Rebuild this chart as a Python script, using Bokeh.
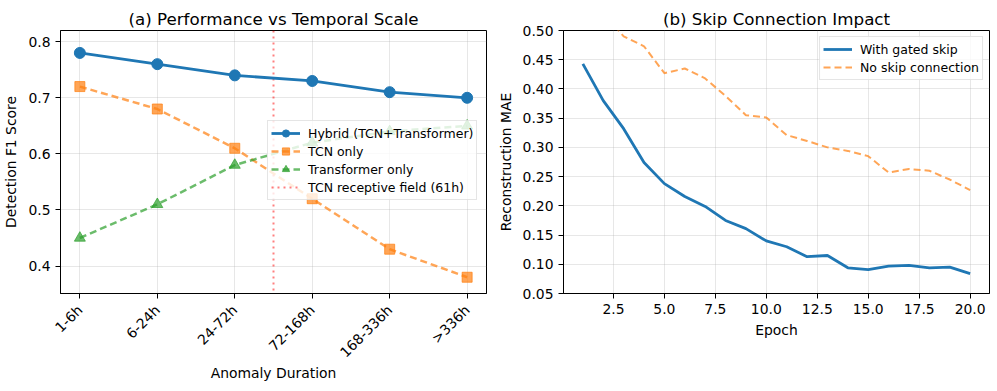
from math import pi
from bokeh.plotting import figure
from bokeh.layouts import row
from bokeh.models import (FixedTicker, Legend, LegendItem, Range1d,
                          NumeralTickFormatter)
from bokeh.embed import file_html
from bokeh.resources import INLINE

# ---------------- data ----------------
durations = ["1-6h", "6-24h", "24-72h", "72-168h", "168-336h", ">336h"]
duration_idx = [0, 1, 2, 3, 4, 5]
hybrid = [0.78, 0.76, 0.74, 0.73, 0.71, 0.70]
tcn_only = [0.72, 0.68, 0.61, 0.52, 0.43, 0.38]
transformer_only = [0.45, 0.51, 0.58, 0.62, 0.64, 0.65]
receptive_field_pos = [2.5]   # 61h lies between 24-72h and 72-168h

epochs = list(range(1, 21))
gated_skip = [0.443, 0.380, 0.332, 0.274, 0.238, 0.216, 0.199, 0.175, 0.161, 0.140,
              0.130, 0.113, 0.115, 0.094, 0.091, 0.097, 0.098, 0.094, 0.095, 0.084]
no_skip = [0.56, 0.53, 0.490, 0.473, 0.427, 0.435, 0.418, 0.388, 0.355, 0.351,
           0.321, 0.311, 0.300, 0.294, 0.285, 0.257, 0.263, 0.260, 0.245, 0.227]

left_yticks = [0.4, 0.5, 0.6, 0.7, 0.8]
right_yticks = [0.05, 0.10, 0.15, 0.20, 0.25, 0.30, 0.35, 0.40, 0.45, 0.50]
right_xticks = [2.5, 5.0, 7.5, 10.0, 12.5, 15.0, 17.5, 20.0]

FONT = "DejaVu Sans"
BLUE = "#1f77b4"
ORANGE = "#ff7f0e"
GREEN = "#2ca02c"
NAN = float("nan")


def style(p):
    p.title.text_font = FONT
    p.title.text_font_size = "16.7px"
    p.title.text_font_style = "normal"
    p.title.align = "center"
    p.title.text_color = "black"
    p.title.standoff = 4
    p.outline_line_color = "black"
    p.outline_line_width = 1
    p.outline_line_alpha = 1
    for ax in (p.xaxis[0], p.yaxis[0]):
        ax.major_tick_out = 5
        ax.major_tick_in = 0
        ax.minor_tick_out = 0
        ax.minor_tick_in = 0
        ax.axis_line_color = "black"
        ax.major_tick_line_color = "black"
        ax.major_label_text_font = FONT
        ax.major_label_text_font_size = "13.9px"
        ax.major_label_text_color = "black"
        ax.major_label_standoff = 5
        ax.axis_label_text_font = FONT
        ax.axis_label_text_font_size = "13.9px"
        ax.axis_label_text_font_style = "normal"
        ax.axis_label_text_color = "black"
        ax.axis_label_standoff = 6
    for g in (p.xgrid[0], p.ygrid[0]):
        g.grid_line_color = "#b0b0b0"
        g.grid_line_alpha = 0.3
        g.grid_line_width = 1
    p.background_fill_color = "white"
    p.border_fill_color = "white"


def style_legend(lg):
    lg.label_text_font = FONT
    lg.label_text_font_size = "12.5px"
    lg.label_text_color = "black"
    lg.glyph_width = 29
    lg.glyph_height = 18
    lg.label_height = 18
    lg.label_standoff = 8
    lg.spacing = 0
    lg.padding = 3
    lg.border_line_color = "#cccccc"
    lg.border_line_width = 1
    lg.background_fill_color = "white"
    lg.background_fill_alpha = 0.8


# ---------------- left panel ----------------
p1 = figure(frame_width=426, frame_height=263, title="(a) Performance vs Temporal Scale",
            x_range=Range1d(-0.25, 5.25), y_range=Range1d(0.351, 0.82),
            output_backend="svg", toolbar_location=None,
            min_border_left=53, min_border_right=8, min_border_top=30,
            min_border_bottom=10)
style(p1)
p1.xaxis.axis_label = "Anomaly Duration"
p1.yaxis.axis_label = "Detection F1 Score"
p1.xaxis.ticker = FixedTicker(ticks=duration_idx)
p1.xaxis.major_label_overrides = {i: d for i, d in zip(duration_idx, durations)}
p1.xaxis.major_label_orientation = pi / 4
p1.xaxis.major_label_standoff = 9
p1.xaxis.axis_label_standoff = -4
p1.yaxis.ticker = FixedTicker(ticks=left_yticks)
p1.yaxis.formatter = NumeralTickFormatter(format="0.0")

p1.vspan(x=receptive_field_pos, line_color="red", line_alpha=0.5,
         line_dash="2 4", line_width=2)
rf_leg = p1.line(x=[NAN], y=[NAN], line_color="red", line_alpha=0.5,
                 line_dash="2 4", line_width=2)

l_h = p1.line(duration_idx, hybrid, line_color=BLUE, line_width=2.8)
s_h = p1.scatter(duration_idx, hybrid, marker="circle", size=11,
                 fill_color=BLUE, line_color=BLUE)

l_t = p1.line(duration_idx, tcn_only, line_color=ORANGE, line_width=2.5,
              line_alpha=0.7, line_dash="7 4")
s_t = p1.scatter(duration_idx, tcn_only, marker="square", size=10,
                 fill_color=ORANGE, line_color=ORANGE, fill_alpha=0.7, line_alpha=0.7)

l_r = p1.line(duration_idx, transformer_only, line_color=GREEN, line_width=2.5,
              line_alpha=0.7, line_dash="7 4")
s_r = p1.scatter(duration_idx, transformer_only, marker="triangle", size=11,
                 fill_color=GREEN, line_color=GREEN, fill_alpha=0.7, line_alpha=0.7)

leg1 = Legend(items=[
    LegendItem(label="Hybrid (TCN+Transformer)", renderers=[l_h, s_h]),
    LegendItem(label="TCN only", renderers=[l_t, s_t]),
    LegendItem(label="Transformer only", renderers=[l_r, s_r]),
    LegendItem(label="TCN receptive field (61h)", renderers=[rf_leg]),
], location=(207, 93))
style_legend(leg1)
p1.add_layout(leg1)

# ---------------- right panel ----------------
p2 = figure(frame_width=426, frame_height=263, title="(b) Skip Connection Impact",
            x_range=Range1d(0.05, 20.95), y_range=Range1d(0.05, 0.50),
            output_backend="svg", toolbar_location=None,
            min_border_left=66, min_border_right=2, min_border_top=30,
            min_border_bottom=10)
style(p2)
p2.xaxis.axis_label = "Epoch"
p2.yaxis.axis_label = "Reconstruction MAE"
p2.xaxis.ticker = FixedTicker(ticks=right_xticks)
p2.xaxis.formatter = NumeralTickFormatter(format="0.0")
p2.yaxis.ticker = FixedTicker(ticks=right_yticks)
p2.yaxis.formatter = NumeralTickFormatter(format="0.00")
p2.xaxis.axis_label_standoff = 5

g1 = p2.line(epochs, gated_skip, line_color=BLUE, line_width=2.8)
g2 = p2.line(epochs, no_skip, line_color=ORANGE, line_width=2, line_alpha=0.7,
             line_dash="7 4")

leg2 = Legend(items=[
    LegendItem(label="With gated skip", renderers=[g1]),
    LegendItem(label="No skip connection", renderers=[g2]),
], location="top_right")
style_legend(leg2)
leg2.margin = 6
p2.add_layout(leg2)

layout = row(p1, p2)
open("out.html", "w").write(file_html(layout, INLINE))
